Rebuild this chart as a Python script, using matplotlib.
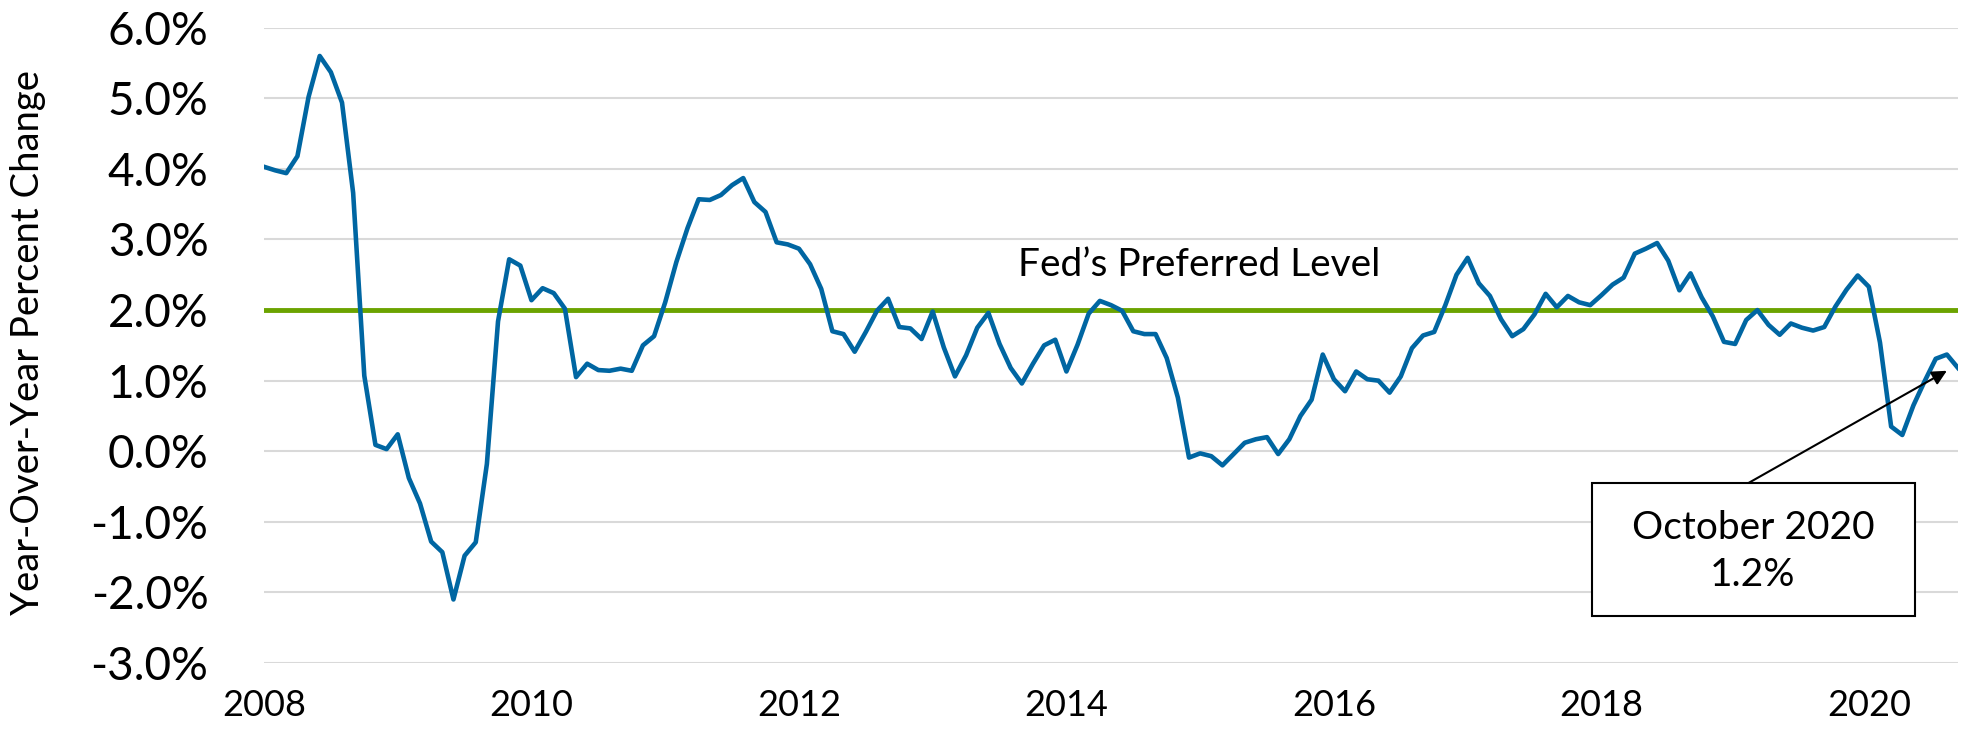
import numpy as np
import matplotlib
matplotlib.use("Agg")
import matplotlib.pyplot as plt
import matplotlib.patches as patches

plt.rcParams['font.family'] = ['Lato', 'DejaVu Sans']

# year-over-year % change, monthly, Feb 2008 .. Oct 2020
y2008 = [4.03, 3.98, 3.94, 4.18, 5.02, 5.60, 5.37, 4.94, 3.66, 1.07, 0.09]
y2009 = [0.03, 0.24, -0.38, -0.74, -1.28, -1.43, -2.10, -1.48, -1.29, -0.18, 1.84, 2.72]
y2010 = [2.63, 2.14, 2.31, 2.24, 2.02, 1.05, 1.24, 1.15, 1.14, 1.17, 1.14, 1.50]
y2011 = [1.63, 2.11, 2.68, 3.16, 3.57, 3.56, 3.63, 3.77, 3.87, 3.53, 3.39, 2.96]
y2012 = [2.93, 2.87, 2.65, 2.30, 1.70, 1.66, 1.41, 1.69, 1.99, 2.16, 1.76, 1.74]
y2013 = [1.59, 1.98, 1.47, 1.06, 1.36, 1.75, 1.96, 1.52, 1.18, 0.96, 1.24, 1.50]
y2014 = [1.58, 1.13, 1.51, 1.95, 2.13, 2.07, 1.99, 1.70, 1.66, 1.66, 1.32, 0.76]
y2015 = [-0.09, -0.03, -0.07, -0.20, -0.04, 0.12, 0.17, 0.20, -0.04, 0.17, 0.50, 0.73]
y2016 = [1.37, 1.02, 0.85, 1.13, 1.02, 1.00, 0.83, 1.06, 1.46, 1.64, 1.69, 2.07]
y2017 = [2.50, 2.74, 2.38, 2.20, 1.87, 1.63, 1.73, 1.94, 2.23, 2.04, 2.20, 2.11]
y2018 = [2.07, 2.21, 2.36, 2.46, 2.80, 2.87, 2.95, 2.70, 2.28, 2.52, 2.18, 1.91]
y2019 = [1.55, 1.52, 1.86, 2.00, 1.79, 1.65, 1.81, 1.75, 1.71, 1.76, 2.05, 2.29]
y2020 = [2.49, 2.33, 1.54, 0.35, 0.23, 0.65, 0.99, 1.31, 1.37, 1.18]

fed_target = 2.0
year_labels = ['2008', '2010', '2012', '2014', '2016', '2018', '2020']
y_ticks = [-3, -2, -1, 0, 1, 2, 3, 4, 5, 6]

values = (y2008 + y2009 + y2010 + y2011 + y2012 + y2013 + y2014 + y2015
          + y2016 + y2017 + y2018 + y2019 + y2020)
x = np.arange(len(values))

fig = plt.figure(figsize=(19.73, 7.30), dpi=100)
ax = fig.add_axes([0.1338, 0.0918, 0.8586, 0.8702])

ax.plot(x, [fed_target] * len(x), color='#6ba300', lw=3.5, zorder=2)
ax.plot(x, values, color='#0066a2', lw=3.3, zorder=3)

ax.set_xlim(0, len(values) - 1)
ax.set_ylim(-3, 6)
ax.set_yticks(y_ticks)
ax.set_yticklabels([f'{v:.1f}%' for v in y_ticks], fontsize=33)
ax.set_xticks(np.arange(len(year_labels)) * 24)
ax.set_xticklabels(year_labels, fontsize=26)
ax.tick_params(axis='y', length=0, pad=40)
ax.tick_params(axis='x', length=0, pad=19)
ax.yaxis.grid(True, color='#d9d9d9', lw=1.5)
ax.set_axisbelow(True)
for s in ax.spines.values():
    s.set_visible(False)

fig.text(0.0142, 0.5315, 'Year-Over-Year Percent Change', rotation=90,
         ha='center', va='center', fontsize=27.5)

ax.text(83.9, 2.64, 'Fed\u2019s Preferred Level', ha='center', va='center', fontsize=28)

# annotation box for last value
box = patches.Rectangle((119.2, -2.33), 28.9, 1.88, facecolor='white',
                        edgecolor='black', lw=1.5, zorder=4)
ax.add_patch(box)
ax.text(133.6, -1.42, f'October 2020\n{values[-1]:.1f}%', ha='center', va='center',
        fontsize=28, linespacing=1.35, zorder=5)
ax.annotate('', xy=(151.0, 1.14), xytext=(133.2, -0.45),
            arrowprops=dict(arrowstyle='-|>', color='black', lw=1.5,
                            mutation_scale=22, shrinkA=0, shrinkB=0), zorder=5)

fig.savefig('out.png', dpi=100)
